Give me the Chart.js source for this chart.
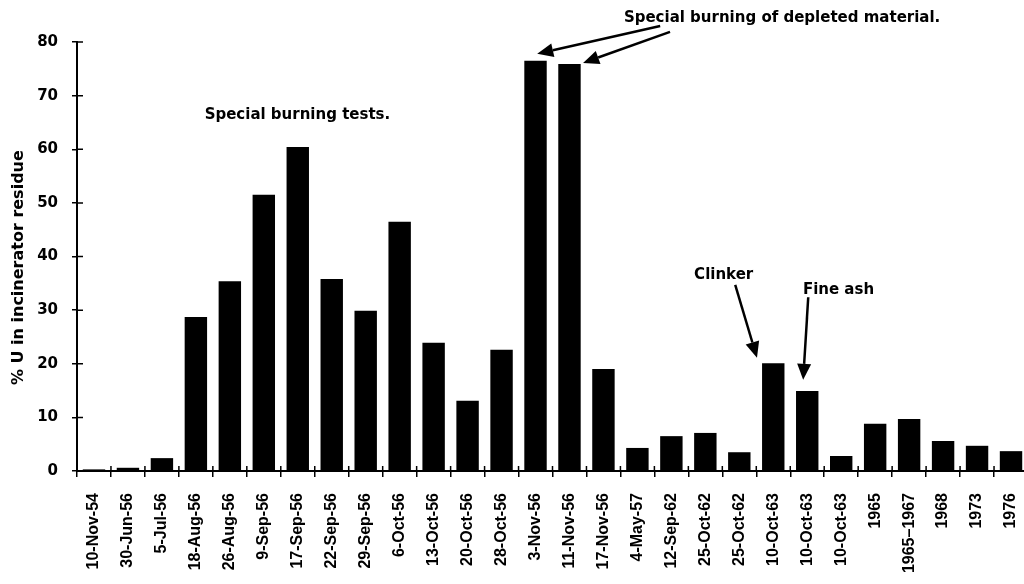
<!DOCTYPE html>
<html>
<head>
<meta charset="utf-8">
<script src="https://cdn.jsdelivr.net/npm/chart.js@4/dist/chart.umd.min.js"></script>
<style>
  html, body { margin: 0; padding: 0; background: #fff; overflow: hidden; }
  #wrap { width: 1028px; height: 584px; position: relative; }
</style>
</head>
<body>
<div id="wrap"><canvas id="c"></canvas></div>
<script>
const labels = [
  "10-Nov-54", "30-Jun-56", "5-Jul-56", "18-Aug-56", "26-Aug-56", "9-Sep-56", "17-Sep-56",
  "22-Sep-56", "29-Sep-56", "6-Oct-56", "13-Oct-56", "20-Oct-56", "28-Oct-56", "3-Nov-56",
  "11-Nov-56", "17-Nov-56", "4-May-57", "12-Sep-62", "25-Oct-62", "25-Oct-62", "10-Oct-63",
  "10-Oct-63", "10-Oct-63", "1965", "1965\u20131967", "1968", "1973", "1976",
];
const uPct = [
  0.3, 0.6, 2.4, 28.7, 35.4, 51.5, 60.4,
  35.8, 29.9, 46.5, 23.9, 13.1, 22.6, 76.5,
  75.9, 19.0, 4.3, 6.5, 7.1, 3.5, 20.1,
  14.9, 2.8, 8.8, 9.7, 5.6, 4.7, 3.7,
];
const yTicks = [0, 10, 20, 30, 40, 50, 60, 70, 80];

// notes placed in data space: x = category index (fractional), y = % value
const notes = [
  { text: "Special burning tests.", x: 5.99, y: 66.4, size: 15 },
  { text: "Special burning of depleted material.", x: 20.26, y: 84.5, size: 15 },
  { text: "Clinker", x: 18.54, y: 36.5, size: 15 },
  { text: "Fine ash", x: 21.92, y: 33.8, size: 15 },
];
const arrows = [
  { from: [16.67, 83.0], to: [13.05, 77.8] },
  { from: [16.96, 81.9], to: [14.4, 76.1] },
  { from: [18.88, 34.7], to: [19.52, 21.1] },
  { from: [21.03, 32.4], to: [20.88, 17.0] },
];

const LIB = "'Liberation Sans', Arial, sans-serif";
const DJV = "'DejaVu Sans', sans-serif";

const extras = {
  id: "extras",
  afterDraw(chart) {
    const { ctx, scales: { x, y } } = chart;
    const base = y.getPixelForValue(0);
    const left = x.left;
    ctx.save();
    ctx.strokeStyle = "#000";
    ctx.lineWidth = 1.5;
    // inner half of the cross-shaped tick marks
    ctx.beginPath();
    yTicks.forEach((v) => {
      const py = y.getPixelForValue(v);
      ctx.moveTo(left, py);
      ctx.lineTo(left + 6, py);
    });
    for (let i = 0; i <= labels.length; i++) {
      const px = x.getPixelForValue(i - 0.5);
      ctx.moveTo(px, base);
      ctx.lineTo(px, base - 5);
    }
    ctx.stroke();

    ctx.fillStyle = "#000";
    ctx.textAlign = "center";
    ctx.textBaseline = "middle";
    notes.forEach((n) => {
      ctx.font = `bold ${n.size}px ${DJV}`;
      ctx.fillText(n.text, x.getPixelForValue(n.x), y.getPixelForValue(n.y));
    });

    arrows.forEach((a) => {
      const x0 = x.getPixelForValue(a.from[0]), y0 = y.getPixelForValue(a.from[1]);
      const x1 = x.getPixelForValue(a.to[0]), y1 = y.getPixelForValue(a.to[1]);
      const ang = Math.atan2(y1 - y0, x1 - x0);
      const len = 16, half = 7;
      const bx = x1 - len * Math.cos(ang), by = y1 - len * Math.sin(ang);
      ctx.lineWidth = 2.5;
      ctx.beginPath();
      ctx.moveTo(x0, y0);
      ctx.lineTo(bx, by);
      ctx.stroke();
      ctx.beginPath();
      ctx.moveTo(x1, y1);
      ctx.lineTo(bx + half * Math.sin(ang), by - half * Math.cos(ang));
      ctx.lineTo(bx - half * Math.sin(ang), by + half * Math.cos(ang));
      ctx.closePath();
      ctx.fill();
    });
    ctx.restore();
  },
};

new Chart(document.getElementById("c"), {
  type: "bar",
  data: {
    labels,
    datasets: [{
      data: uPct,
      backgroundColor: "#000",
      borderWidth: 0,
      barPercentage: 0.66,
      categoryPercentage: 1,
    }],
  },
  options: {
    responsive: true,
    maintainAspectRatio: false,
    animation: false,
    layout: { padding: { top: 42, right: 0, left: 0, bottom: 0 } },
    plugins: { legend: { display: false }, tooltip: { enabled: false } },
    scales: {
      x: {
        afterFit: (s) => { s.height = 113; s.paddingLeft = 0; s.paddingRight = 0; },
        grid: { display: true, drawOnChartArea: false, tickLength: 6, color: "#000", lineWidth: 1.5, offset: true },
        border: { display: true, color: "#000", width: 2 },
        ticks: {
          color: "#000", autoSkip: false, maxRotation: 90, minRotation: 90, padding: 16,
          font: { family: LIB, size: 16, weight: "bold" },
        },
      },
      y: {
        min: 0, max: 80,
        afterFit: (s) => { s.width = 77; },
        afterBuildTicks: (s) => { s.ticks = yTicks.map((v) => ({ value: v })); },
        grid: { display: true, drawOnChartArea: false, tickLength: 5, color: "#000", lineWidth: 1.5 },
        border: { display: true, color: "#000", width: 2 },
        ticks: { color: "#000", padding: 14, font: { family: DJV, size: 15, weight: "bold" } },
        title: {
          display: true, text: "% U in incinerator residue\u00a0\u00a0\u00a0\u00a0", color: "#000",
          padding: { top: 9, bottom: 0 },
          font: { family: DJV, size: 16, weight: "bold" },
        },
      },
    },
  },
  plugins: [extras],
});
</script>
</body>
</html>
